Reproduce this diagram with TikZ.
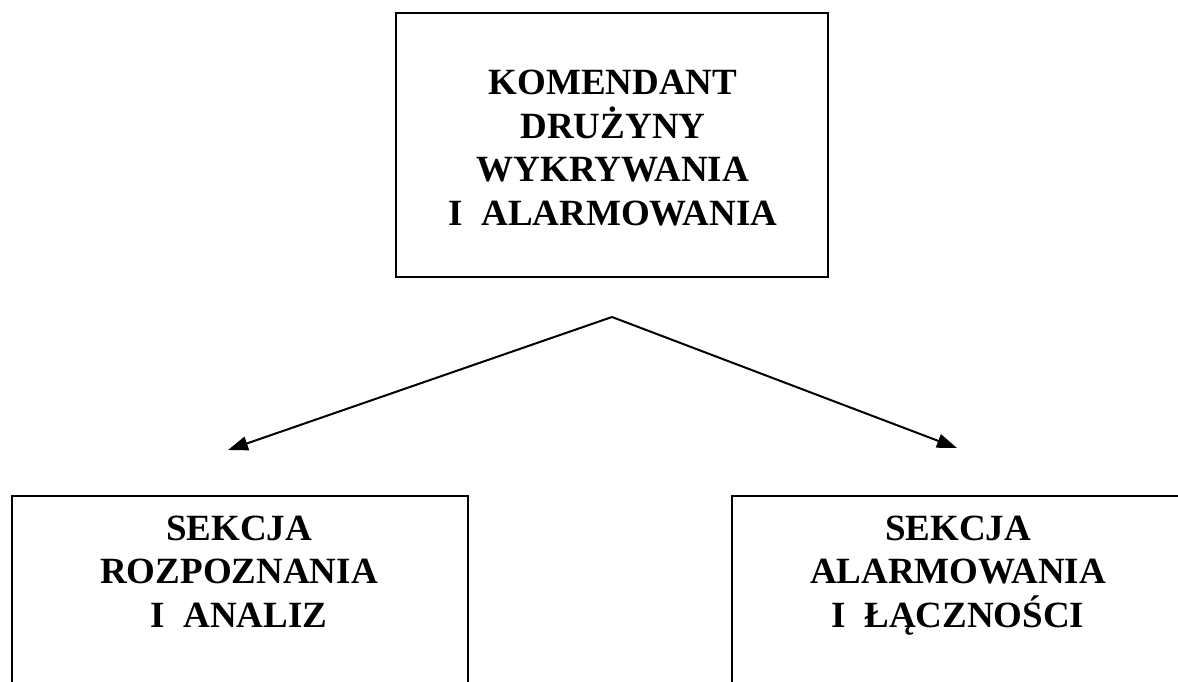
\documentclass[tikz,border=0pt]{standalone}
\usepackage{fontspec}
\setmainfont{Liberation Serif}
\usetikzlibrary{arrows.meta}
\tikzset{
  orgbox/.style={draw=black, line width=2pt, rectangle, inner sep=0pt},
  orgtxt/.style={align=center, inner sep=0pt, font=\bfseries\fontsize{37}{43.5}\selectfont},
  orgarrow/.style={line width=2pt, -{Triangle[length=20pt,width=14pt]}}
}
\begin{document}
\begin{tikzpicture}[x=1pt,y=-1pt]
\useasboundingbox (0,0) rectangle (1178,682);
\clip (0,0) rectangle (1178,682);
% top box
\node[orgbox, minimum width=432pt, minimum height=264pt, anchor=north west] (top) at (395,12) {};
\node[orgtxt, anchor=base] (toptxt) at (613,225) {KOMENDANT\\DRUŻYNY\\WYKRYWANIA\\I\ \ ALARMOWANIA};
% bottom boxes
\node[orgbox, minimum width=456pt, minimum height=260pt, anchor=north west] (left) at (11,495) {};
\node[orgtxt, anchor=base] (lefttxt) at (239,627) {SEKCJA\\ROZPOZNANIA\\I\ \ ANALIZ};
\node[orgbox, minimum width=456pt, minimum height=260pt, anchor=north west] (right) at (731,495) {};
\node[orgtxt, anchor=base] (righttxt) at (958,627) {SEKCJA\\ALARMOWANIA\\I\ \ ŁĄCZNOŚCI};
% arrows
\coordinate (apex) at (612,317);
\coordinate (lend) at (228,450);
\coordinate (rend) at (957,448);
\draw[orgarrow] (apex) -- (lend);
\draw[orgarrow] (apex) -- (rend);
\end{tikzpicture}
\end{document}
